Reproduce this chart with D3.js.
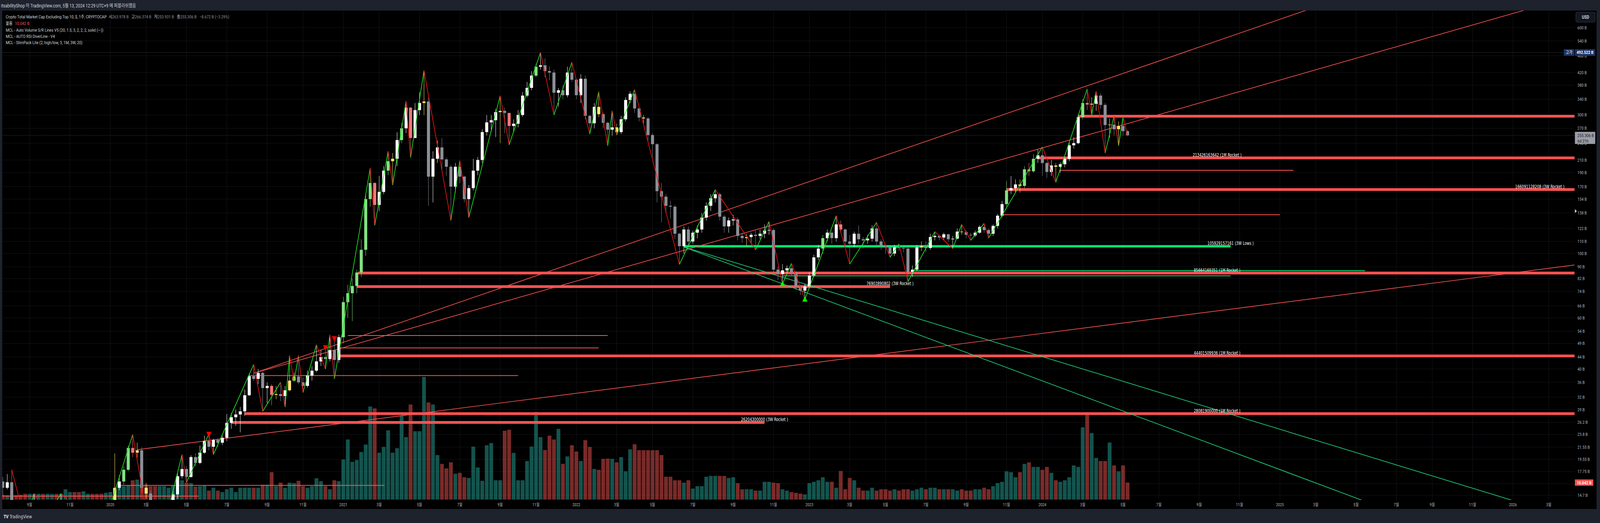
<!DOCTYPE html>
<html>
<head>
<meta charset="utf-8">
<script src="https://cdn.jsdelivr.net/npm/d3@7"></script>
<style>
  html, body { margin: 0; padding: 0; background: #1e222d; overflow: hidden; }
  svg { display: block; }
</style>
</head>
<body>
<div id="chart"></div>
<script>
// weekly candles, CRYPTOCAP:OTHERS, values in billions USD
const startDate = '2019-07-22';
const firstOpen = 16.4;

const close = [
  15.6, 16.3, 13.6, 13.1, 12.7, 12.3, 12.9, 13.5, 13.7, 13.0,
  13.3, 13.5, 13.0, 13.6, 13.8, 13.9, 13.0, 12.2, 12.5, 12.8,
  12.2, 11.6, 11.2, 11.6, 12.3, 15.6, 16.4, 18.0, 21.4, 20.6,
  21.0, 15.6, 14.9, 12.5, 10.2, 10.8, 11.3, 11.9, 14.8, 17.1,
  18.1, 17.0, 19.9, 19.0, 20.6, 22.6, 21.6, 22.8, 22.3, 23.2,
  26.1, 27.3, 27.9, 28.6, 32.5, 37.8, 37.0, 38.8, 34.4, 35.0,
  32.6, 32.8, 32.3, 33.8, 36.5, 37.7, 36.0, 35.0, 38.0, 39.5,
  42.5, 44.0, 43.3, 46.5, 43.0, 51.5, 68.0, 73.0, 77.3, 86.0,
  103, 154, 175, 147, 163, 193, 208, 212, 246, 270,
  318, 250, 312, 330, 334, 184, 212, 232, 211, 199,
  170, 199, 184, 154, 168, 193, 210, 262, 283, 288,
  307, 310, 305, 275, 280, 300, 350, 372, 410, 440,
  445, 425, 420, 358, 365, 351, 420, 397, 351, 400,
  298, 281, 320, 302, 282, 267, 272, 262, 290, 338,
  355, 316, 294, 292, 256, 238, 164, 157, 146, 145,
  117, 106, 121, 110, 118, 121, 133, 146, 155, 160,
  134, 124, 130, 131, 115, 113, 114, 116, 115, 117,
  120, 120.5, 88, 85, 87.5, 89, 86, 77, 74.5, 77,
  84, 97, 104, 113, 118, 113, 126, 121, 110, 108,
  117, 112, 111, 112.5, 122, 110, 106, 105, 100, 105,
  104.5, 104, 86.5, 88, 105, 106, 104.5, 114, 115, 113.5,
  116.5, 112, 112.5, 119, 118.5, 116, 115.5, 118, 123.5, 120.5,
  117, 124.5, 135, 148, 165, 168, 173, 171, 195, 192,
  212, 218, 205, 191, 201, 199, 203, 212, 236, 240,
  295, 330, 326, 328, 350, 325, 277, 278, 268, 275,
  263.978, 255.306
];

const high = [
  17.0, 17.4, 18.0, 13.9, 13.4, 12.9, 13.3, 14.9, 14.1, 13.9,
  13.6, 13.9, 13.7, 14.9, 14.1, 14.2, 14.0, 13.1, 12.8, 13.0,
  12.9, 12.3, 11.7, 11.9, 12.6, 20.5, 17.2, 18.5, 21.8, 23.8,
  22.3, 21.5, 16.2, 15.2, 12.8, 11.5, 11.9, 12.4, 15.3, 17.6,
  20.3, 18.5, 20.2, 20.5, 21.8, 23.6, 23.9, 23.0, 23.1, 23.6,
  28.0, 28.2, 29.0, 29.6, 34.0, 38.6, 41.5, 40.0, 39.2, 36.0,
  35.5, 35.0, 36.0, 35.0, 44.5, 39.0, 44.5, 37.5, 39.5, 41.0,
  48.5, 46.5, 47.5, 52.5, 51.0, 52.5, 71.0, 78.0, 82.0, 88.0,
  112, 160, 197, 176, 185, 200, 225, 222, 262, 282,
  335, 320, 330, 360, 427, 345, 225, 245, 250, 214,
  202, 205, 209, 185, 172, 212, 215, 268, 300, 300,
  315, 349, 318, 305, 290, 312, 360, 390, 425, 450,
  492.522, 470, 440, 430, 372, 380, 440, 456, 400, 415,
  410, 300, 330, 361, 305, 285, 310, 280, 298, 345,
  362, 367, 318, 300, 295, 260, 240, 175, 160, 152,
  147, 118, 124, 124, 120, 125, 138, 150, 160, 166,
  162, 136, 133, 136, 133, 118, 117, 118, 120, 121,
  126, 129, 122, 90, 92, 91, 92.5, 87, 78, 78.5,
  86, 99, 107, 116, 121, 120, 135, 130, 122, 116,
  119, 125, 114, 116, 125, 128, 112, 107, 106, 107,
  108, 107, 106, 91, 107, 110, 110, 117, 119, 116,
  118, 117, 115, 122, 126, 120, 118, 120, 125, 127,
  122, 126, 137, 152, 178, 185, 180, 180, 200, 205,
  220, 228, 233, 207, 210, 205, 206, 215, 240, 252,
  302, 340, 369, 345, 362, 357, 330, 292, 298, 285,
  296, 266.374
];

const low = [
  14.6, 15.4, 13.2, 12.7, 12.3, 11.9, 12.2, 12.8, 13.3, 12.7,
  12.5, 13.1, 12.8, 12.9, 13.3, 13.5, 12.8, 11.9, 11.9, 12.3,
  11.9, 11.3, 10.8, 11.0, 11.4, 12.2, 15.3, 16.0, 17.8, 19.9,
  19.8, 15.0, 14.3, 11.6, 8.6, 9.8, 10.4, 11.0, 11.7, 14.3,
  16.8, 16.3, 16.9, 18.5, 18.8, 20.4, 21.0, 20.3, 21.5, 21.9,
  22.6, 24.9, 25.5, 24.2, 27.6, 32.3, 36.4, 35.5, 28.6, 30.5,
  30.0, 31.5, 31.0, 29.6, 33.5, 36.2, 35.5, 33.2, 34.5, 36.5,
  39.0, 41.0, 40.0, 42.5, 37.0, 42.0, 49.0, 60.0, 58.5, 73.0,
  83, 98, 145, 125, 140, 160, 186, 172, 200, 240,
  260, 214, 250, 300, 300, 146, 150, 205, 195, 185,
  130, 162, 175, 150, 133, 165, 186, 205, 255, 262,
  252, 240, 260, 237, 262, 272, 296, 345, 365, 405,
  430, 405, 395, 300, 320, 340, 345, 390, 340, 330,
  290, 258, 270, 295, 270, 235, 255, 256, 258, 285,
  330, 305, 285, 280, 245, 215, 150, 128, 138, 132,
  112, 91.7, 100, 106, 108, 113, 118, 130, 140, 150,
  130, 118, 118, 125, 111, 109, 106, 108, 103, 112,
  113, 116, 86, 81, 78.5, 85, 84, 75, 72, 69.5,
  76, 83, 95, 100, 110, 108, 110, 118, 105, 92,
  105, 108, 104, 108, 110, 106, 103, 100, 97, 98,
  102, 101, 80, 83, 87, 102, 101, 103, 111, 111,
  111, 110, 104, 112, 116, 113, 111, 114, 117, 118,
  113, 115, 122, 133, 145, 160, 162, 162, 168, 185,
  190, 205, 185, 182, 185, 176, 190, 198, 208, 230,
  238, 290, 312, 300, 310, 315, 222, 250, 255, 235,
  255, 253.931
];

const volume = [
  2.8, 2.6, 2.7, 2.6, 2.9, 3.4, 3.4, 3.4, 3.4, 3.4,
  3.4, 3.3, 3.4, 3.4, 6.1, 4.4, 4.4, 4.4, 4.9, 3.4,
  3.4, 3.4, 3.4, 4.0, 4.4, 6.5, 7.9, 7.9, 8.3, 11.4,
  11.8, 7.9, 8.8, 7.9, 7.9, 7.9, 7.9, 7.0, 8.3, 13.2,
  11.4, 10.0, 9.7, 7.6, 7.9, 8.3, 5.3, 7.0, 5.3, 4.4,
  6.1, 7.0, 4.4, 7.0, 7.0, 7.0, 7.0, 7.0, 8.8, 8.8,
  16.2, 7.9, 10.0, 7.0, 10.0, 9.7, 11.1, 7.9, 7.0, 7.9,
  12.6, 10.9, 7.9, 6.1, 11.4, 10.9, 23.7, 35.5, 22.3, 23.4,
  28.1, 32.5, 55.0, 53.9, 27.7, 31.1, 40.9, 27.7, 30.4, 49.5,
  36.9, 56.2, 40.4, 40.4, 72.5, 57.4, 56.2, 26.3, 21.1, 18.4,
  22.0, 15.3, 15.8, 13.2, 12.8, 31.3, 19.0, 11.1, 32.1, 33.4,
  11.4, 11.4, 40.7, 41.3, 27.6, 11.4, 11.4, 22.8, 31.3, 51.8,
  36.9, 29.3, 37.8, 35.5, 41.8, 21.1, 25.5, 32.1, 28.4, 22.8,
  35.1, 31.1, 18.1, 17.6, 24.1, 24.2, 24.1, 22.0, 25.1, 16.7,
  29.7, 32.7, 29.2, 29.2, 29.2, 29.2, 29.2, 26.3, 13.5, 13.5,
  11.4, 11.4, 10.0, 11.4, 6.5, 7.9, 7.9, 13.5, 14.0, 14.0,
  14.0, 14.0, 12.8, 13.2, 9.7, 6.1, 6.1, 6.1, 5.3, 5.3,
  10.5, 10.5, 10.0, 9.7, 6.1, 5.3, 4.4, 4.0, 3.5, 3.0,
  9.7, 10.5, 11.4, 13.2, 10.5, 10.5, 7.0, 16.9, 6.1, 12.8,
  11.4, 7.0, 5.3, 5.3, 7.0, 5.3, 6.1, 6.1, 5.3, 6.1,
  5.3, 6.1, 6.1, 5.3, 6.1, 7.0, 6.1, 7.0, 7.0, 6.1,
  6.1, 6.1, 6.1, 5.3, 6.1, 5.3, 5.3, 6.1, 6.1, 7.0,
  6.1, 7.9, 9.7, 10.5, 16.7, 16.2, 13.2, 16.2, 21.1, 22.0,
  19.3, 19.3, 17.6, 19.3, 15.8, 11.4, 10.5, 11.4, 13.2, 20.2,
  19.3, 42.7, 51.6, 39.3, 24.6, 22.8, 22.8, 33.7, 20.2, 16.7,
  20.2, 10.042
];

// candles painted by the indicator (bar index)
const yellowBars = [25, 30, 32, 61, 64, 65, 87, 94, 111, 133, 137, 143, 166, 205, 214, 227, 235, 243, 247, 249];
const brightBars = [27, 28, 29, 60, 76, 77, 78, 79, 80, 81, 82, 83, 86, 89, 91, 113, 119, 183, 187, 224, 228, 229, 230, 241, 242];

// zigzag pivots [bar index, H/L]
const zigzag = [
  [2,'H'],[5,'L'],[7,'H'],[10,'L'],[13,'H'],[22,'L'],[29,'H'],[34,'L'],[40,'H'],[41,'L'],
  [46,'H'],[47,'L'],[56,'H'],[58,'L'],[62,'H'],[63,'L'],[64,'H'],[65,'L'],[66,'H'],[67,'L'],
  [70,'H'],[72,'L'],[73,'H'],[74,'L'],[82,'H'],[83,'L'],[86,'H'],[87,'L'],[90,'H'],[91,'L'],
  [94,'H'],[100,'L'],[102,'H'],[104,'L'],[111,'H'],[113,'L'],[120,'H'],[123,'L'],[127,'H'],[131,'L'],
  [133,'H'],[135,'L'],[136,'H'],[137,'L'],[141,'H'],[151,'L'],[159,'H'],[168,'L'],[171,'H'],[174,'L'],
  [176,'H'],[179,'L'],[186,'H'],[189,'L'],[195,'H'],[198,'L'],[200,'H'],[202,'L'],[208,'H'],[212,'L'],
  [214,'H'],[216,'L'],[219,'H'],[220,'L'],[232,'H'],[235,'L'],[242,'H'],[243,'L'],[244,'H'],[246,'L'],
  [248,'H'],[249,'L'],[250,'H'],[251,'L']
];

const bearDiv = [46, 72, 74];
const bullDiv = [174, 179];

// support / resistance levels (billions)
const levels = [
  { v: 297.2,         from: '2024-02-26', to: '2024-09-30', ext: true,  type: 'rocket' },
  { v: 213.426163642, from: '2023-12-25', to: '2024-09-30', ext: true,  type: 'rocket', tag: '1M Rocket' },
  { v: 193.5,         from: '2024-01-29', to: '2025-01-27', ext: false, type: 'minor' },
  { v: 166.091128208, from: '2023-11-06', to: '2026-02-16', ext: true,  type: 'rocket', tag: '3W Rocket' },
  { v: 136.0,         from: '2023-10-30', to: '2025-01-06', ext: false, type: 'minor' },
  { v: 105.929157161, from: '2022-06-20', to: '2024-10-21', ext: false, type: 'lows',   tag: '3W Lows' },
  { v: 87.3,          from: '2023-06-12', to: '2025-05-19', ext: false, type: 'minorLow' },
  { v: 83.8,          from: '2022-11-21', to: '2024-10-21', ext: false, type: 'minorLow' },
  { v: 85.664169351,  from: '2021-01-27', to: '2024-09-30', ext: true,  type: 'rocket', tag: '1M Rocket' },
  { v: 76.903890802,  from: '2021-01-25', to: '2023-05-08', ext: false, type: 'rocket', tag: '3W Rocket' },
  { v: 52.2,          from: '2021-01-11', to: '2022-02-21', ext: false, type: 'minor' },
  { v: 47.3,          from: '2020-12-30', to: '2022-02-07', ext: false, type: 'minor' },
  { v: 44.401509936,  from: '2020-12-30', to: '2024-09-30', ext: true,  type: 'rocket', tag: '1M Rocket' },
  { v: 38.0,          from: '2020-08-10', to: '2021-10-04', ext: false, type: 'minor' },
  { v: 28.0819,       from: '2020-08-03', to: '2024-09-30', ext: true,  type: 'rocket', tag: '1M Rocket' },
  { v: 26.2043,       from: '2020-07-13', to: '2022-10-24', ext: false, type: 'rocket', tag: '3W Rocket' },
  { v: 15.9,          from: '2020-01-18', to: '2021-03-09', ext: false, type: 'minor' },
  { v: 14.6,          from: '2019-07-20', to: '2020-05-23', ext: false, type: 'minor' }
];

// trend lines through two anchors, extended to the right
const trendLines = [
  { type: 'res', a: ['2020-02-17', 21.1], b: ['2024-05-13', 57.9] },
  { type: 'res', a: ['2020-08-17', 38.7], b: ['2024-05-13', 422.5] },
  { type: 'res', a: ['2020-08-17', 38.7], b: ['2024-05-13', 280.3] },
  { type: 'sup', a: ['2022-06-20', 105.3], b: ['2024-05-13', 35.9] },
  { type: 'sup', a: ['2022-06-20', 105.3], b: ['2024-05-13', 28.3] }
];

const yTicks = [600, 540, 480, 420, 380, 340, 300, 270, 240, 210, 190, 170, 154, 138, 122, 110, 100,
  90, 82, 74, 66, 60, 54, 49, 44, 40, 36, 32, 29, 26.2, 23.8, 21.55, 19.55, 17.75, 16.1, 14.7];

const xTickMonths = ['2019-09','2019-11','2020-01','2020-03','2020-05','2020-07','2020-09','2020-11',
  '2021-01','2021-03','2021-05','2021-07','2021-09','2021-11','2022-01','2022-03','2022-05','2022-07',
  '2022-09','2022-11','2023-01','2023-03','2023-05','2023-07','2023-09','2023-11','2024-01','2024-03',
  '2024-05','2024-07','2024-09','2024-11','2025-01','2025-03','2025-05','2025-07','2025-09','2025-11',
  '2026-01','2026-03'];

const athValue = 492.522;
const lastClose = 255.306;
const lastVolume = 10.042;

// ---------------------------------------------------------------
const W = 5033, H = 1339;
const plotL = 7, plotR = 4953, plotT = 27, plotB = 1280;
const uiFont = "Roboto, 'Noto Sans CJK KR', 'Noto Sans', sans-serif";
const narrowFont = "'Liberation Sans Narrow', 'DejaVu Sans Condensed', 'Roboto Condensed', 'Noto Sans', sans-serif";

const parseDay = d3.utcParse('%Y-%m-%d');
const parseMonth = d3.utcParse('%Y-%m');
const t0 = parseDay(startDate);

const candles = close.map((c, i) => ({
  i,
  date: d3.utcDay.offset(t0, 7 * i),
  o: i === 0 ? firstOpen : close[i - 1],
  h: high[i], l: low[i], c, v: volume[i]
}));
const yellowSet = new Set(yellowBars);
const brightSet = new Set(brightBars);

const x = d3.scaleUtc().domain([parseDay('2020-01-06'), parseDay('2026-01-05')]).range([347, 4759]);
const y = d3.scaleLog().domain([600, 14.7]).range([70.7, 1268]);
const yv = d3.scaleLinear().domain([0, 72.5]).range([1279, 965]);

// fit the drawing to whatever viewport the page gets
const vw = window.innerWidth || W, vh = window.innerHeight || H;
const svg = d3.select('#chart').append('svg')
  .attr('width', vw).attr('height', vh)
  .attr('viewBox', `0 0 ${W} ${H}`).attr('preserveAspectRatio', 'none');
svg.append('rect').attr('width', W).attr('height', H).attr('fill', '#1e222d');
svg.append('rect').attr('x', plotL).attr('y', plotT).attr('width', 5023 - plotL).attr('height', 1303 - plotT).attr('fill', '#000');
svg.append('line').attr('x1', 5023).attr('x2', 5023).attr('y1', plotT).attr('y2', 1303).attr('stroke', '#2a2e39');

svg.append('clipPath').attr('id', 'plotClip').append('rect')
  .attr('x', plotL).attr('y', plotT).attr('width', plotR - plotL).attr('height', plotB - plotT);
const plot = svg.append('g').attr('clip-path', 'url(#plotClip)');

// grid
const xTicks = xTickMonths.map(m => d3.utcMonday.ceil(parseMonth(m)));
plot.append('g').selectAll('line').data(yTicks).join('line')
  .attr('x1', plotL).attr('x2', plotR).attr('y1', d => y(d)).attr('y2', d => y(d))
  .attr('stroke', '#16181d').attr('stroke-width', 1);
plot.append('g').selectAll('line').data(xTicks).join('line')
  .attr('x1', d => x(d)).attr('x2', d => x(d)).attr('y1', plotT).attr('y2', plotB)
  .attr('stroke', '#16181d').attr('stroke-width', 1);

// volume
plot.append('g').selectAll('rect').data(candles).join('rect')
  .attr('x', d => x(d.date) - 6).attr('width', 12)
  .attr('y', d => yv(d.v)).attr('height', d => yv(0) - yv(d.v))
  .attr('fill', d => d.c >= d.o ? 'rgba(38,166,154,0.5)' : 'rgba(239,83,80,0.5)');

// levels
const levelStyle = {
  rocket:   { stroke: '#ff5252', width: 7 },
  lows:     { stroke: '#00e676', width: 6 },
  minor:    { stroke: '#ff5252', width: 2 },
  minorLow: { stroke: '#00e676', width: 2 }
};
plot.append('g').selectAll('line').data(levels).join('line')
  .attr('x1', d => x(parseDay(d.from)))
  .attr('x2', d => d.ext ? plotR : x(parseDay(d.to)))
  .attr('y1', d => y(d.v)).attr('y2', d => y(d.v))
  .attr('stroke', d => levelStyle[d.type].stroke)
  .attr('stroke-width', d => levelStyle[d.type].width);

// trend lines
plot.append('g').selectAll('line').data(trendLines).join('line')
  .each(function (d) {
    const ax = x(parseDay(d.a[0])), ay = y(d.a[1]);
    const bx = x(parseDay(d.b[0])), by = y(d.b[1]);
    const ey = ay + (by - ay) * (plotR - ax) / (bx - ax);
    d3.select(this).attr('x1', ax).attr('y1', ay).attr('x2', plotR).attr('y2', ey);
  })
  .attr('stroke', d => d.type === 'res' ? '#ff5252' : '#1fd27a')
  .attr('stroke-width', 1.7);

// candles
const candleColor = d => {
  if (yellowSet.has(d.i)) return '#ffe66e';
  if (brightSet.has(d.i)) return d.c >= d.o ? '#84e184' : '#f07878';
  return d.c >= d.o ? '#ffffff' : '#8c8f97';
};
const cg = plot.append('g');
cg.selectAll('line').data(candles).join('line')
  .attr('x1', d => x(d.date)).attr('x2', d => x(d.date))
  .attr('y1', d => y(d.h)).attr('y2', d => y(d.l))
  .attr('stroke', candleColor).attr('stroke-width', 1.2);
cg.selectAll('rect').data(candles).join('rect')
  .attr('x', d => x(d.date) - 4.75).attr('width', 9.5)
  .attr('y', d => y(Math.max(d.o, d.c)))
  .attr('height', d => Math.max(1.2, Math.abs(y(d.o) - y(d.c))))
  .attr('fill', candleColor);

// zigzag
const zz = zigzag.map(([i, k]) => ({ x: x(candles[i].date), y: y(k === 'H' ? high[i] : low[i]) }));
plot.append('g').selectAll('line').data(d3.pairs(zz)).join('line')
  .attr('x1', d => d[0].x).attr('y1', d => d[0].y)
  .attr('x2', d => d[1].x).attr('y2', d => d[1].y)
  .attr('stroke', d => d[1].y < d[0].y ? '#1ee81e' : '#f01414')
  .attr('stroke-width', 2);

// divergence markers
const tri = d3.symbol(d3.symbolTriangle).size(110);
plot.append('g').selectAll('path').data(bearDiv).join('path')
  .attr('d', tri)
  .attr('transform', i => `translate(${x(candles[i].date)},${y(high[i]) - 1}) rotate(180)`)
  .attr('fill', '#ff0000');
plot.append('g').selectAll('path').data(bullDiv).join('path')
  .attr('d', tri)
  .attr('transform', i => `translate(${x(candles[i].date)},${y(low[i]) + 1})`)
  .attr('fill', '#00ff00');

// level labels
plot.append('g').selectAll('text').data(levels.filter(d => d.tag)).join('text')
  .attr('x', d => x(parseDay(d.to))).attr('y', d => y(d.v) - 3.5)
  .attr('text-anchor', 'middle')
  .attr('font-family', narrowFont).attr('font-size', 12).attr('fill', '#ffffff')
  .text(d => `${d3.format('d')(Math.round(d.v * 1e9))} (${d.tag} )`);

// price lines
plot.append('line').attr('x1', plotL).attr('x2', plotR)
  .attr('y1', y(athValue)).attr('y2', y(athValue))
  .attr('stroke', '#b2b5be').attr('stroke-dasharray', '1,3');
plot.append('line').attr('x1', plotL).attr('x2', plotR)
  .attr('y1', y(lastClose)).attr('y2', y(lastClose))
  .attr('stroke', '#9598a1').attr('stroke-dasharray', '1,3');

// right axis (the tick under the volume badge is fully covered, as in TradingView)
const volY = yv(lastVolume);
const axis = svg.append('g').attr('font-family', uiFont).attr('font-size', 11.5).attr('fill', '#b2b5be');
axis.selectAll('text').data(yTicks.filter(d => Math.abs(y(d) - volY) > 10)).join('text')
  .attr('x', 4962).attr('y', d => y(d)).attr('dy', '0.35em')
  .text(d => `${d} B`);

// bottom axis
const bx = svg.append('g').attr('font-family', uiFont).attr('font-size', 11).attr('fill', '#b2b5be');
bx.selectAll('text').data(xTicks).join('text')
  .attr('x', d => x(d)).attr('y', 1296).attr('text-anchor', 'middle')
  .text(d => d.getUTCMonth() === 0 ? d3.utcFormat('%Y')(d) : `${d.getUTCMonth() + 1}월`);

// axis badges
svg.append('rect').attr('x', 4957).attr('y', 31).attr('width', 61).attr('height', 26).attr('rx', 4)
  .attr('fill', '#131722').attr('stroke', '#363a45');
svg.append('text').attr('x', 4987.5).attr('y', 48).attr('text-anchor', 'middle')
  .attr('font-family', uiFont).attr('font-size', 12).attr('font-weight', 700).attr('fill', '#d1d4dc').text('USD');

const athY = y(athValue);
svg.append('rect').attr('x', 4919).attr('y', athY - 8.5).attr('width', 33).attr('height', 17).attr('fill', '#1c3366');
svg.append('text').attr('x', 4935.5).attr('y', athY).attr('dy', '0.35em').attr('text-anchor', 'middle')
  .attr('font-family', uiFont).attr('font-size', 11.5).attr('fill', '#ffffff').text('고가');
svg.append('rect').attr('x', 4954).attr('y', athY - 8.5).attr('width', 64).attr('height', 17).attr('fill', '#1c3366');
svg.append('text').attr('x', 4986).attr('y', athY).attr('dy', '0.35em').attr('text-anchor', 'middle')
  .attr('font-family', uiFont).attr('font-size', 11.5).attr('font-weight', 700).attr('fill', '#ffffff')
  .text(`${d3.format('.3f')(athValue)} B`);

const lastY = y(lastClose);
svg.append('rect').attr('x', 4954).attr('y', lastY - 9).attr('width', 64).attr('height', 31).attr('fill', '#9b9ea6');
svg.append('text').attr('x', 4962).attr('y', lastY + 4)
  .attr('font-family', uiFont).attr('font-size', 11.5).attr('fill', '#131722').text(`${d3.format('.3f')(lastClose)} B`);
svg.append('text').attr('x', 4962).attr('y', lastY + 18)
  .attr('font-family', uiFont).attr('font-size', 11.5).attr('fill', '#131722').text('6d 21h');

svg.append('rect').attr('x', 4954).attr('y', volY - 8).attr('width', 58).attr('height', 16).attr('fill', '#f05350');
svg.append('text').attr('x', 4983).attr('y', volY).attr('dy', '0.35em').attr('text-anchor', 'middle')
  .attr('font-family', uiFont).attr('font-size', 11.5).attr('font-weight', 700).attr('fill', '#ffffff')
  .text(`${d3.format('.3f')(lastVolume)} B`);

svg.append('path').attr('d', `M4954,${y(140) - 5}L4960,${y(140)}L4954,${y(140) + 5}Z`).attr('fill', '#d1d4dc');

// header and legend
svg.append('text').attr('x', 3).attr('y', 19).attr('font-family', uiFont).attr('font-size', 12.5).attr('fill', '#d1d4dc')
  .text('itsabilityShop 이 TradingView.com, 5월 13, 2024 12:29 UTC+9 에 퍼블리쉬했음');

const lg = svg.append('g').attr('font-family', uiFont).attr('font-size', 11.5);
const l1 = lg.append('text').attr('x', 18).attr('y', 47).attr('fill', '#d1d4dc');
l1.append('tspan').text('Crypto Total Market Cap Excluding Top 10, $, 1주, CRYPTOCAP');
const last = candles[candles.length - 1];
const fmtB = v => `${d3.format('.3f')(v)} B`;
[['시', last.o], ['고', last.h], ['저', last.l], ['종', last.c]].forEach(([k, v], j) => {
  l1.append('tspan').attr('dx', j === 0 ? 7 : 9).attr('fill', '#d1d4dc').text(k);
  l1.append('tspan').attr('fill', '#8c8f97').text(fmtB(v));
});
const chg = last.c - last.o;
l1.append('tspan').attr('dx', 9).attr('fill', '#8c8f97')
  .text(`${fmtB(chg).replace('-', '−')} (${d3.format('.2f')(chg / last.o * 100).replace('-', '−')}%)`);

const l2 = lg.append('text').attr('x', 18).attr('y', 64).attr('fill', '#d1d4dc');
l2.append('tspan').text('볼륨');
l2.append('tspan').attr('dx', 8).attr('fill', '#f7525f').text(fmtB(lastVolume));

['MCL - Auto Volume S/R Lines V5 (20, 1.5, 3, 2, 2, 2, solid (—))',
 'MCL - AUTO RSI DiverLine - V4',
 'MCL - StimPack Lite (2, high/low, 3, 1M, 3W, 20)'].forEach((t, j) => {
  lg.append('text').attr('x', 18).attr('y', 81.5 + j * 16).attr('fill', '#d1d4dc').text(t);
});

// footer logo
svg.append('text').attr('x', 11).attr('y', 1327).attr('font-family', uiFont).attr('font-size', 13)
  .attr('font-weight', 900).attr('fill', '#d1d4dc').attr('letter-spacing', -1).text('TV');
svg.append('text').attr('x', 30).attr('y', 1327).attr('font-family', narrowFont).attr('font-size', 13)
  .attr('fill', '#d1d4dc').text('TradingView');
</script>
</body>
</html>
